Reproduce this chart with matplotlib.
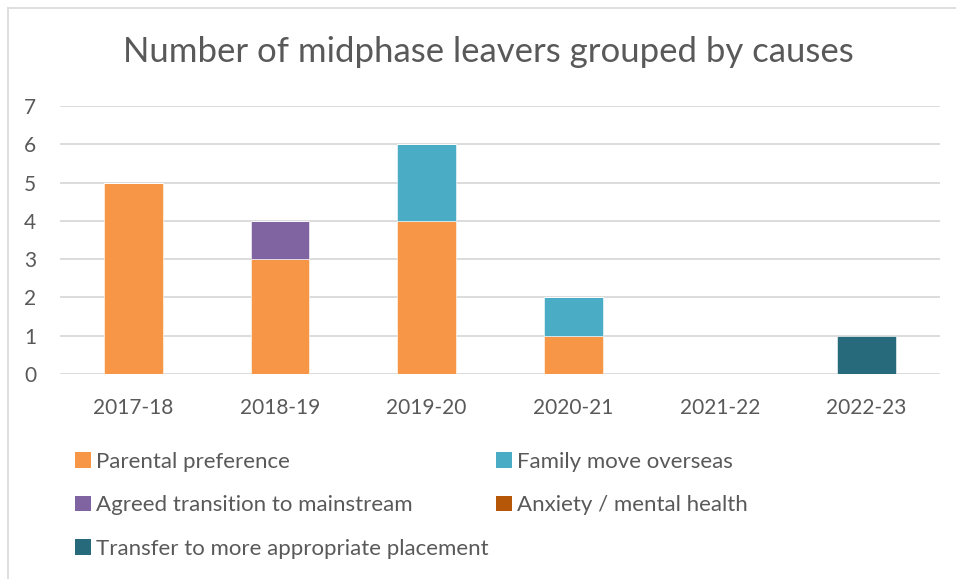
import matplotlib.pyplot as plt
from matplotlib.patches import Patch
from matplotlib.lines import Line2D
import numpy as np

plt.rcParams['font.family'] = ['Lato', 'DejaVu Sans']

years = ["2017-18", "2018-19", "2019-20", "2020-21", "2021-22", "2022-23"]
causes = ["Parental preference", "Family move overseas", "Agreed transition to mainstream",
          "Anxiety / mental health", "Transfer to more appropriate placement"]
parental = [5, 3, 4, 1, 0, 0]
overseas = [0, 0, 2, 1, 0, 0]
mainstream = [0, 1, 0, 0, 0, 0]
anxiety = [0, 0, 0, 0, 0, 0]
transfer = [0, 0, 0, 0, 0, 1]
colors = ["#F79646", "#4BACC6", "#8064A2", "#B65708", "#276A7C"]

txt = "#595959"
grid = "#D9D9D9"

fig = plt.figure(figsize=(9.56, 5.79), dpi=100)
ax = fig.add_axes([60 / 956, 205 / 579, 880 / 956, 268 / 579])

x = np.arange(len(years))
bottom = np.zeros(len(years))
for vals, c in zip([parental, overseas, mainstream, anxiety, transfer], colors):
    ax.bar(x, vals, 0.4, bottom=bottom, color=c, edgecolor="white", linewidth=0.4, zorder=3)
    bottom += np.array(vals)

ax.set_xlim(-0.5, len(years) - 0.5)
ax.set_ylim(0, 7)
ax.set_yticks(range(8))
ax.set_xticks(x)
ax.set_xticklabels(years)
ax.grid(axis="y", color=grid, linewidth=1.3, zorder=0)
for s in ax.spines.values():
    s.set_visible(False)
ax.tick_params(length=0, colors=txt, labelsize=15)
ax.tick_params(axis="y", pad=17)
ax.tick_params(axis="x", pad=17)

fig.text(488 / 956, 1 - 52 / 579, "Number of midphase leavers grouped by causes",
         ha="center", va="center", fontsize=25, color=txt)

# legend, laid out row by row like the original
handles = [Patch(facecolor=c) for c in colors]
left_idx = [0, 2, 4]
right_idx = [1, 3]
for idx, xpos in [(left_idx, 55), (right_idx, 476)]:
    fig.legend([handles[i] for i in idx], [causes[i] for i in idx],
               loc="upper left", bbox_to_anchor=(xpos / 956, 1 - 432 / 579),
               frameon=False, fontsize=16, labelcolor=txt,
               handlelength=0.7, handleheight=0.7, handletextpad=0.25,
               labelspacing=1.05)

# chart border (left and top edges visible)
fig.add_artist(Line2D([8 / 956, 8 / 956], [0, 1 - 8 / 579], color=grid, linewidth=1.2))
fig.add_artist(Line2D([8 / 956, 1], [1 - 8 / 579, 1 - 8 / 579], color=grid, linewidth=1.2))

fig.savefig("out.png", dpi=100)
